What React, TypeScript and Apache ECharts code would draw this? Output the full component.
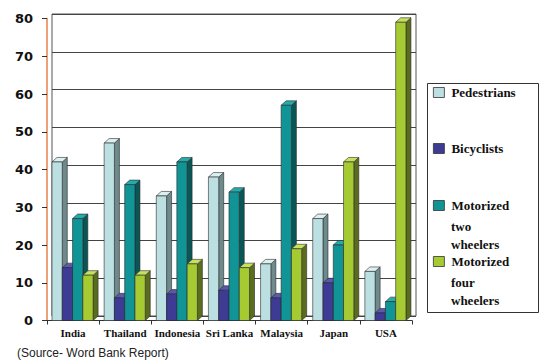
import React, { useEffect, useRef } from "react";
import * as echarts from "echarts";

const categories = ["India", "Thailand", "Indonesia", "Sri Lanka", "Malaysia", "Japan", "USA"];
const seriesNames = ["Pedestrians", "Bicyclists", "Motorized two wheelers", "Motorized four wheelers"];
const pedestrians = [42, 47, 33, 38, 15, 27, 13];
const bicyclists = [14, 6, 7, 8, 6, 10, 2];
const twoWheelers = [27, 36, 42, 34, 57, 20, 5];
const fourWheelers = [12, 12, 15, 14, 19, 42, 79];
const yMin = 0;
const yMax = 80;
const yStep = 10;
const sourceNote = "(Source- Word Bank Report)";

const palettes = [
  { front: "#bcdfe2", side: "#6e8a8d", top: "#dcf0f2" },
  { front: "#3d3b93", side: "#24235a", top: "#5a58b0" },
  { front: "#109495", side: "#0a5657", top: "#25abab" },
  { front: "#a6cb32", side: "#5a6d1f", top: "#c6e15e" },
];

export default function App() {
  const ref = useRef<HTMLDivElement>(null);
  useEffect(() => {
    if (!ref.current) return;
    const chart = echarts.init(ref.current, undefined, { renderer: "svg" });
    const allValues = [pedestrians, bicyclists, twoWheelers, fourWheelers];
    const stroke = "#2a2a2a";
    const makeSeries = (idx: number) => ({
      type: "custom",
      name: seriesNames[idx],
      xAxisIndex: 0,
      yAxisIndex: 0,
      itemStyle: { color: palettes[idx].front },
      encode: { x: 0, y: 1 },
      data: allValues[idx].map((v, i) => [i, v]),
      renderItem: (params: any, api: any) => {
        const cat = api.value(0);
        const v = api.value(1);
        const base = api.coord([cat, 0]);
        const top = api.coord([cat, v]);
        const bw = api.size([1, 0])[0];
        const w = bw * 0.197;
        const x = base[0] - bw / 2 + bw * 0.096 + idx * w;
        const dx = 5;
        const dy = -4.5;
        const p = palettes[idx];
        return {
          type: "group",
          children: [
            {
              type: "polygon",
              shape: { points: [[x + w, top[1]], [x + w + dx, top[1] + dy], [x + w + dx, base[1] + dy], [x + w, base[1]]] },
              style: { fill: p.side, stroke, lineWidth: 0.6 },
            },
            {
              type: "polygon",
              shape: { points: [[x, top[1]], [x + dx, top[1] + dy], [x + w + dx, top[1] + dy], [x + w, top[1]]] },
              style: { fill: p.top, stroke, lineWidth: 0.6 },
            },
            {
              type: "rect",
              shape: { x, y: top[1], width: w, height: base[1] - top[1] },
              style: { fill: p.front, stroke, lineWidth: 0.6 },
            },
          ],
        };
      },
    });

    const legendTops = [86, 142, 199, 255];
    const legendText = (name: string) => name.split(" ").slice(0, 1).join(" ");
    const legends = seriesNames.map((n, i) => ({
      data: [n],
      orient: "vertical",
      left: 433,
      top: legendTops[i],
      padding: 0,
      icon: "rect",
      itemWidth: 11,
      itemHeight: 10,
      itemGap: 0,
      itemStyle: { borderColor: "#333", borderWidth: 0.8 },
      formatter: (name: string) => (i < 2 ? name : legendText(name)),
      textStyle: { fontFamily: "Liberation Serif", fontWeight: "bold", fontSize: 13, color: "#111", padding: [0, 0, 0, 2] },
      selectedMode: false,
    }));

    chart.setOption({
      animation: false,
      backgroundColor: "#ffffff",
      grid: [
        { left: 47, right: 138, top: 18.5, bottom: 41.5 },
        { left: 52, right: 134, top: 14, bottom: 46, show: true, borderColor: "#555", borderWidth: 1 },
      ],
      xAxis: [
        {
          type: "category",
          gridIndex: 0,
          data: categories,
          axisLine: { lineStyle: { color: "#333", width: 1 } },
          axisTick: { show: true, length: 4, lineStyle: { color: "#333" } },
          axisLabel: { margin: 7, fontFamily: "Liberation Serif", fontWeight: "bold", fontSize: 11, color: "#111", interval: 0 },
        },
        {
          type: "category",
          gridIndex: 1,
          data: categories,
          show: false,
        },
      ],
      yAxis: [
        {
          type: "value",
          gridIndex: 0,
          min: yMin,
          max: yMax,
          interval: yStep,
          axisLine: { show: true, lineStyle: { color: "#e8824a", width: 1.5 } },
          axisTick: { show: true, length: 5, lineStyle: { color: "#333" } },
          splitLine: { show: false },
          axisLabel: { margin: 14, fontFamily: "DejaVu Sans", fontWeight: "bold", fontSize: 13, color: "#111" },
        },
        {
          type: "value",
          gridIndex: 1,
          min: yMin,
          max: yMax,
          interval: yStep,
          axisLine: { show: false },
          axisTick: { show: false },
          axisLabel: { show: false },
          splitLine: { show: true, lineStyle: { color: "#444", width: 1 } },
        },
      ],
      legend: legends,
      graphic: [
        {
          type: "rect",
          z: 1,
          shape: { x: 427.5, y: 83.5, width: 111, height: 229 },
          style: { fill: "#fff", stroke: "#333", lineWidth: 1 },
        },
        {
          type: "text",
          z: 5,
          left: 451,
          top: 217,
          style: { text: "two\nwheelers", fontFamily: "Liberation Serif", fontWeight: "bold", fontSize: 13, lineHeight: 18, fill: "#111" },
        },
        {
          type: "text",
          z: 5,
          left: 451,
          top: 273,
          style: { text: "four\nwheelers", fontFamily: "Liberation Serif", fontWeight: "bold", fontSize: 13, lineHeight: 18, fill: "#111" },
        },
        {
          type: "text",
          left: 17,
          top: 347,
          style: { text: sourceNote, fontFamily: "Liberation Sans", fontSize: 12, fill: "#222" },
        },
      ],
      series: [0, 1, 2, 3].map(makeSeries),
    });
    return () => chart.dispose();
  }, []);
  return <div ref={ref} style={{ position: "fixed", left: 0, top: 0, width: 550, height: 362, background: "#fff" }} />;
}
